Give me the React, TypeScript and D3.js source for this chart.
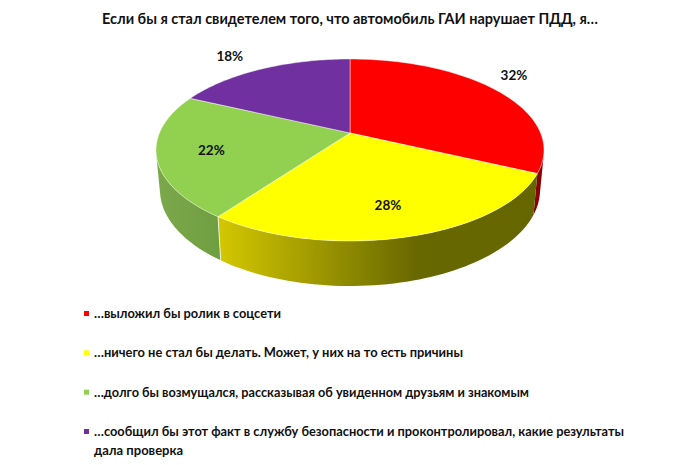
import React from "react";
import * as d3 from "d3";

const titleText = "Если бы я стал свидетелем того, что автомобиль ГАИ нарушает ПДД, я…";
const categories = [
  "…выложил бы ролик в соцсети",
  "…ничего не стал бы делать. Может, у них на то есть причины",
  "…долго бы возмущался, рассказывая об увиденном друзьям и знакомым",
  "…сообщил бы этот факт в службу безопасности и проконтролировал, какие результаты",
];
const legendContinuation = "дала проверка";
const values = [32, 28, 22, 18];
const topColors = ["#ff0000", "#ffff00", "#92d050", "#7030a0"];
const sideColors = ["#8a0000", "url(#yellowSide)", "url(#greenSide)", "#3e1a5a"];
const labelRadius = [1.22, 0.55, 0.68, 1.12];
const labelNudge = [[-11, -7], [9, 20], [-9, 2], [-23, -6]];
const legendWidths = [187, 369, 435, 530];

const W = 700, H = 465;
const FONT = "Lato, 'Open Sans', 'Noto Sans', sans-serif";
const tilt = 0.187;
const topEllipse = { cx: 350, cy: 150, rx: 194, ry: 91 };
const baseEllipse = { cx: 350, cy: 190, rx: 190, ry: 96 };
type Ell = typeof topEllipse;
type Pt = [number, number];

function project(a: number, r: number, e: Ell): Pt {
  const x = r * Math.sin(a), y = -r * Math.cos(a);
  const d = 1 - tilt * y;
  return [e.cx + (e.rx * x * Math.sqrt(1 - tilt * tilt)) / d, e.cy + (e.ry * (y - tilt)) / d];
}

const arcs = d3.pie<number>().sort(null)(values);
const line = d3.line();

function arcPoints(a0: number, a1: number, e: Ell, n = 60): Pt[] {
  return d3.range(0, n + 1).map((i) => project(a0 + ((a1 - a0) * i) / n, 1, e));
}

// Side wall as a union of front-facing quads, so the silhouette is right
function sidePath(a0: number, a1: number) {
  const t = arcPoints(a0, a1, topEllipse);
  const b = arcPoints(a0, a1, baseEllipse);
  let d = "";
  for (let i = 0; i < t.length - 1; i++) {
    const quad: Pt[] = [t[i], t[i + 1], b[i + 1], b[i]];
    if (d3.polygonArea(quad) < 0) continue;
    d += line(quad) + "Z";
  }
  return d;
}

export default function App() {
  const legendY = d3.scalePoint<number>().domain(d3.range(categories.length)).range([318, 436]);
  return (
    <svg width={W} height={H} viewBox={`0 0 ${W} ${H}`} style={{ position: "absolute", left: 0, top: 0, background: "#fff" }}>
      <defs>
        <linearGradient id="yellowSide" x1="0" x2="1" y1="0" y2="0">
          <stop offset="0" stopColor="#d4c800" />
          <stop offset="0.62" stopColor="#686800" />
          <stop offset="1" stopColor="#666600" />
        </linearGradient>
        <linearGradient id="greenSide" x1="0" x2="1" y1="0" y2="0">
          <stop offset="0" stopColor="#7ba84a" />
          <stop offset="1" stopColor="#6f9e40" />
        </linearGradient>
      </defs>
      <text x={350} y={24} textAnchor="middle" fontFamily={FONT} fontWeight={700} fontSize={14.5} textLength={496} lengthAdjust="spacingAndGlyphs" fill="#111">{titleText}</text>

      {arcs.map((s, i) => (
        <path key={i} d={sidePath(s.startAngle, s.endAngle)} fill={sideColors[i]} />
      ))}
      {(() => {
        const a = arcs[1].endAngle;
        return <path d={line([project(a, 1, topEllipse), project(a, 1, baseEllipse)]) ?? ""} stroke="#fff" strokeOpacity={0.8} strokeWidth={1} fill="none" />;
      })()}
      {arcs.map((s, i) => {
        const pts = arcPoints(s.startAngle, s.endAngle, topEllipse);
        return <path key={i} d={line([project(0, 0, topEllipse), ...pts]) + "Z"} fill={topColors[i]} stroke="#fff" strokeOpacity={0.55} strokeWidth={0.8} strokeLinejoin="round" />;
      })}
      {arcs.map((s, i) => {
        const mid = (s.startAngle + s.endAngle) / 2;
        const [px, py] = project(mid, labelRadius[i], topEllipse);
        return <text key={i} x={px + labelNudge[i][0]} y={py + labelNudge[i][1]} dy="0.35em" textAnchor="middle" fontFamily={FONT} fontWeight={700} fontSize={13.5} fill="#111">{values[i]}%</text>;
      })}
      {categories.map((c, i) => {
        const y = legendY(i)!;
        return (
          <g key={i}>
            <rect x={84} y={y - 7} width={5} height={5} fill={topColors[i]} />
            <text x={94} y={y} fontFamily={FONT} fontWeight={700} fontSize={13} textLength={legendWidths[i]} lengthAdjust="spacingAndGlyphs" fill="#111">{c}</text>
          </g>
        );
      })}
      <text x={94} y={legendY(categories.length - 1)! + 18.5} fontFamily={FONT} fontWeight={700} fontSize={13} fill="#111">{legendContinuation}</text>
    </svg>
  );
}
